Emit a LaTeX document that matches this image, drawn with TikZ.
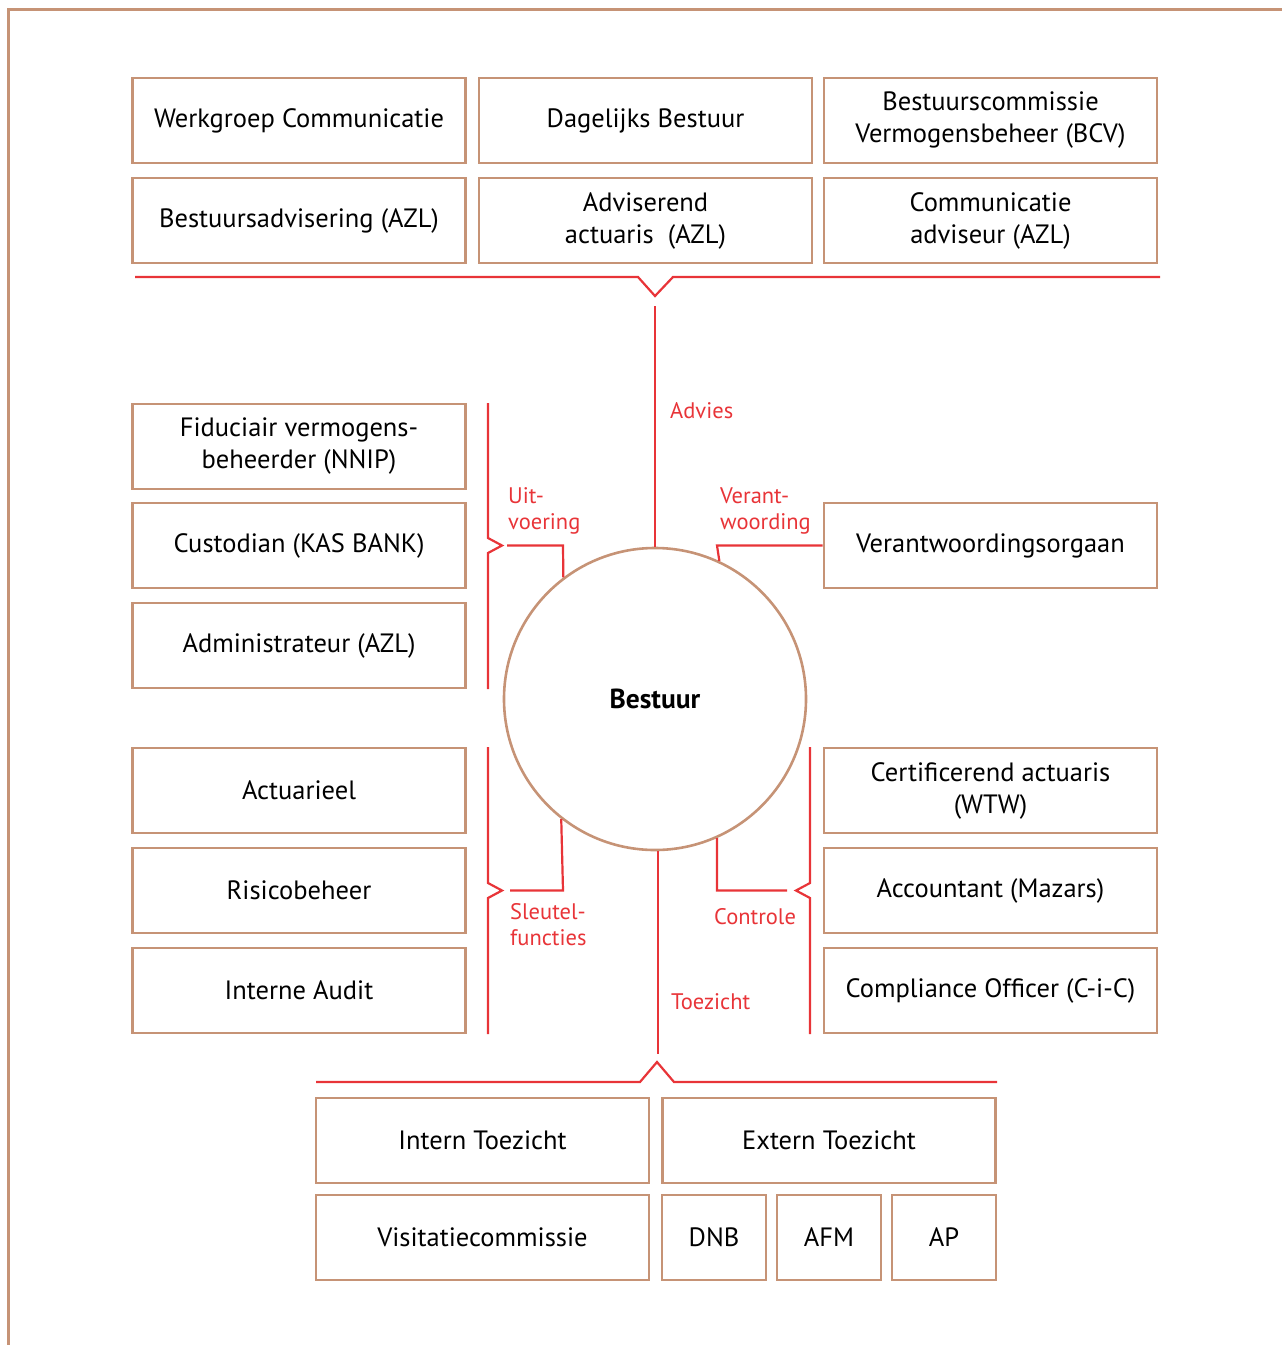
\documentclass[tikz,border=0pt]{standalone}
\usepackage{fontspec}
\setmainfont{PT Sans}
\definecolor{tan}{RGB}{198,147,118}
\definecolor{lred}{RGB}{232,52,56}
\begin{document}
\begin{tikzpicture}[x=1pt,y=-1pt,
  box/.style={draw=tan,line width=2.6pt,rectangle,inner sep=0pt,align=center,
    font=\fontsize{26.5}{32}\selectfont,text=black},
  wide/.style={box,minimum width=333,minimum height=85},
  narrow/.style={box,minimum width=104,minimum height=85},
  link/.style={draw=lred,line width=2.2pt},
  lab/.style={text=lred,font=\fontsize{22.5}{26}\selectfont,align=left,anchor=west,inner sep=0pt}]
\useasboundingbox (0,0) rectangle (1282,1345);
% frame
\draw[tan,line width=3pt] (8,1345) -- (8,9) -- (1282,9);
% top boxes
\node[wide] (wc) at (299,120.5) {Werkgroep Communicatie};
\node[wide] (db) at (645.5,120.5) {Dagelijks Bestuur};
\node[wide] (bcv) at (990.5,120.5) {Bestuurscommissie\\Vermogensbeheer (BCV)};
\node[wide] (ba) at (299,220.5) {Bestuursadvisering (AZL)};
\node[wide] (aa) at (645.5,220.5) {Adviserend\\actuaris\ \ (AZL)};
\node[wide] (ca) at (990.5,220.5) {Communicatie\\adviseur (AZL)};
% left boxes
\node[wide] (fv) at (299,446.5) {Fiduciair vermogens-\\beheerder (NNIP)};
\node[wide] (cu) at (299,545.5) {Custodian (KAS BANK)};
\node[wide] (ad) at (299,645.5) {Administrateur (AZL)};
\node[wide] (ac) at (299,790.5) {Actuarieel};
\node[wide] (rb) at (299,890.5) {Risicobeheer};
\node[wide] (ia) at (299,990.5) {Interne Audit};
% right boxes
\node[wide] (vo) at (990.5,545.5) {Verantwoordingsorgaan};
\node[wide] (cert) at (990.5,790.5) {Certificerend actuaris\\(WTW)};
\node[wide] (acc) at (990.5,890.5) {Accountant (Mazars)};
\node[wide] (co) at (990.5,990.5) {Compliance Officer (C-i-C)};
% bottom boxes
\node[wide] (it) at (482.5,1140.5) {Intern Toezicht};
\node[wide] (et) at (829,1140.5) {Extern Toezicht};
\node[wide] (vc) at (482.5,1237.5) {Visitatiecommissie};
\node[narrow] (dnb) at (714,1237.5) {DNB};
\node[narrow] (afm) at (829,1237.5) {AFM};
\node[narrow] (ap) at (944,1237.5) {AP};
% circle
\node[circle,draw=tan,line width=2.6pt,minimum size=302,inner sep=0pt,
  font=\fontsize{27.5}{30}\selectfont\bfseries] (b) at (655,699) {Bestuur};
% top bracket
\coordinate (tl) at (135,277);
\coordinate (tr) at (1160,277);
\coordinate (tv) at (655,296);
\draw[link] (tl) -- (638,277) -- (tv) -- (673,277) -- (tr);
\draw[link] (655,306) -- (b.north);
\node[lab] (advies) at (670,411) {Advies};
% Uitvoering
\coordinate (u1) at (488,403);
\coordinate (u2) at (488,689);
\draw[link] (u1) -- (488,538) -- (502,545.5) -- (488,553) -- (u2);
\draw[link] (507,545.5) -- (563,545.5) -- (b.127.2);
\node[lab] (uit) at (508,511) {Uit-\\voering};
% Verantwoording
\draw[link] (b.65.5) -- (717,545.5) -- (vo.west);
\node[lab] (ver) at (720,511) {Verant-\\woording};
% Sleutelfuncties
\coordinate (s1) at (488,747);
\coordinate (s2) at (488,1034);
\draw[link] (s1) -- (488,883) -- (502,890.5) -- (488,898) -- (s2);
\draw[link] (510,890.5) -- (563,890.5) -- (b.232.8);
\node[lab] (sl) at (510,925) {Sleutel-\\functies};
% Controle
\coordinate (c1) at (810,747);
\coordinate (c2) at (810,1034);
\draw[link] (c1) -- (810,883) -- (796,890.5) -- (810,898) -- (c2);
\draw[link] (787,890.5) -- (717,890.5) -- (b.294.5);
\node[lab] (ctl) at (714,917) {Controle};
% Toezicht
\draw[link] (b.south -| 658,0) -- (658,1054);
\coordinate (bl) at (316,1082);
\coordinate (br) at (997,1082);
\draw[link] (bl) -- (640,1082) -- (657,1062) -- (674,1082) -- (br);
\node[lab] (tz) at (671,1002) {Toezicht};
\end{tikzpicture}
\end{document}
